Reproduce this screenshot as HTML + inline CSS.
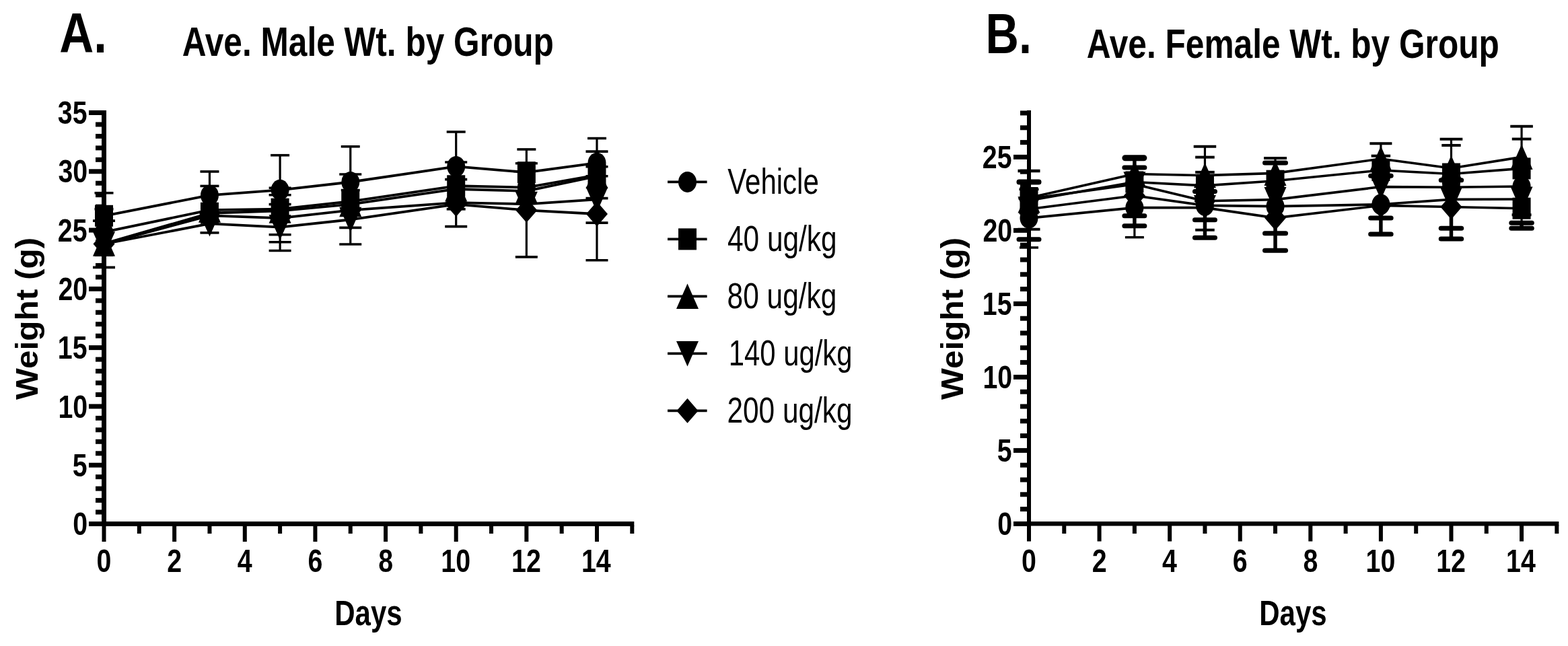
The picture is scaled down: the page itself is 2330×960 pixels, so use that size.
<!DOCTYPE html>
<html><head><meta charset="utf-8"><title>Ave. Wt. by Group</title>
<style>html,body{margin:0;padding:0;background:#fff;}svg{display:block;}
text{font-family:'Liberation Sans', Arial, sans-serif;fill:#000;}</style></head>
<body><svg width="2330" height="960" viewBox="0 0 2330 960">
<rect width="2330" height="960" fill="#fff"/>
<g fill="#000">
<rect x="151.00" y="164.00" width="7.00" height="618.00"/>
<rect x="151.00" y="775.00" width="791.30" height="7.00"/>
<rect x="132.00" y="775.00" width="20.00" height="7.00"/>
<rect x="142.00" y="757.54" width="10.00" height="7.00"/>
<rect x="142.00" y="740.09" width="10.00" height="7.00"/>
<rect x="142.00" y="722.63" width="10.00" height="7.00"/>
<rect x="142.00" y="705.17" width="10.00" height="7.00"/>
<rect x="132.00" y="687.72" width="20.00" height="7.00"/>
<rect x="142.00" y="670.26" width="10.00" height="7.00"/>
<rect x="142.00" y="652.80" width="10.00" height="7.00"/>
<rect x="142.00" y="635.34" width="10.00" height="7.00"/>
<rect x="142.00" y="617.89" width="10.00" height="7.00"/>
<rect x="132.00" y="600.43" width="20.00" height="7.00"/>
<rect x="142.00" y="582.97" width="10.00" height="7.00"/>
<rect x="142.00" y="565.52" width="10.00" height="7.00"/>
<rect x="142.00" y="548.06" width="10.00" height="7.00"/>
<rect x="142.00" y="530.60" width="10.00" height="7.00"/>
<rect x="132.00" y="513.14" width="20.00" height="7.00"/>
<rect x="142.00" y="495.69" width="10.00" height="7.00"/>
<rect x="142.00" y="478.23" width="10.00" height="7.00"/>
<rect x="142.00" y="460.77" width="10.00" height="7.00"/>
<rect x="142.00" y="443.32" width="10.00" height="7.00"/>
<rect x="132.00" y="425.86" width="20.00" height="7.00"/>
<rect x="142.00" y="408.40" width="10.00" height="7.00"/>
<rect x="142.00" y="390.95" width="10.00" height="7.00"/>
<rect x="142.00" y="373.49" width="10.00" height="7.00"/>
<rect x="142.00" y="356.03" width="10.00" height="7.00"/>
<rect x="132.00" y="338.57" width="20.00" height="7.00"/>
<rect x="142.00" y="321.12" width="10.00" height="7.00"/>
<rect x="142.00" y="303.66" width="10.00" height="7.00"/>
<rect x="142.00" y="286.20" width="10.00" height="7.00"/>
<rect x="142.00" y="268.75" width="10.00" height="7.00"/>
<rect x="132.00" y="251.29" width="20.00" height="7.00"/>
<rect x="142.00" y="233.83" width="10.00" height="7.00"/>
<rect x="142.00" y="216.38" width="10.00" height="7.00"/>
<rect x="142.00" y="198.92" width="10.00" height="7.00"/>
<rect x="142.00" y="181.46" width="10.00" height="7.00"/>
<rect x="132.00" y="164.00" width="20.00" height="7.00"/>
<rect x="151.50" y="781.00" width="6.00" height="24.00"/>
<rect x="203.82" y="781.00" width="6.00" height="12.00"/>
<rect x="256.14" y="781.00" width="6.00" height="24.00"/>
<rect x="308.46" y="781.00" width="6.00" height="12.00"/>
<rect x="360.78" y="781.00" width="6.00" height="24.00"/>
<rect x="413.10" y="781.00" width="6.00" height="12.00"/>
<rect x="465.42" y="781.00" width="6.00" height="24.00"/>
<rect x="517.74" y="781.00" width="6.00" height="12.00"/>
<rect x="570.06" y="781.00" width="6.00" height="24.00"/>
<rect x="622.38" y="781.00" width="6.00" height="12.00"/>
<rect x="674.70" y="781.00" width="6.00" height="24.00"/>
<rect x="727.02" y="781.00" width="6.00" height="12.00"/>
<rect x="779.34" y="781.00" width="6.00" height="24.00"/>
<rect x="831.66" y="781.00" width="6.00" height="12.00"/>
<rect x="883.98" y="781.00" width="6.00" height="24.00"/>
<rect x="936.30" y="781.00" width="6.00" height="12.00"/>
<line x1="154.50" y1="286.74" x2="154.50" y2="397.41" stroke="#000" stroke-width="3.2" stroke-linecap="butt"/>
<line x1="140.50" y1="286.74" x2="168.50" y2="286.74" stroke="#000" stroke-width="3.6" stroke-linecap="butt"/>
<line x1="140.50" y1="310.65" x2="168.50" y2="310.65" stroke="#000" stroke-width="3.6" stroke-linecap="butt"/>
<line x1="138.00" y1="328.11" x2="171.00" y2="328.11" stroke="#000" stroke-width="3.6" stroke-linecap="butt"/>
<line x1="140.50" y1="379.26" x2="168.50" y2="379.26" stroke="#000" stroke-width="3.6" stroke-linecap="butt"/>
<line x1="138.00" y1="397.41" x2="171.00" y2="397.41" stroke="#000" stroke-width="3.6" stroke-linecap="butt"/>
<line x1="311.46" y1="254.96" x2="311.46" y2="345.92" stroke="#000" stroke-width="3.2" stroke-linecap="butt"/>
<line x1="297.46" y1="254.96" x2="325.46" y2="254.96" stroke="#000" stroke-width="3.6" stroke-linecap="butt"/>
<line x1="297.46" y1="276.44" x2="325.46" y2="276.44" stroke="#000" stroke-width="3.6" stroke-linecap="butt"/>
<line x1="297.46" y1="345.92" x2="325.46" y2="345.92" stroke="#000" stroke-width="3.6" stroke-linecap="butt"/>
<line x1="416.10" y1="230.70" x2="416.10" y2="372.45" stroke="#000" stroke-width="3.2" stroke-linecap="butt"/>
<line x1="402.10" y1="230.70" x2="430.10" y2="230.70" stroke="#000" stroke-width="3.6" stroke-linecap="butt"/>
<line x1="399.60" y1="279.23" x2="432.60" y2="279.23" stroke="#000" stroke-width="3.6" stroke-linecap="butt"/>
<line x1="399.60" y1="289.70" x2="432.60" y2="289.70" stroke="#000" stroke-width="3.6" stroke-linecap="butt"/>
<line x1="399.60" y1="303.67" x2="432.60" y2="303.67" stroke="#000" stroke-width="3.6" stroke-linecap="butt"/>
<line x1="399.60" y1="348.71" x2="432.60" y2="348.71" stroke="#000" stroke-width="3.6" stroke-linecap="butt"/>
<line x1="399.60" y1="359.71" x2="432.60" y2="359.71" stroke="#000" stroke-width="3.6" stroke-linecap="butt"/>
<line x1="399.60" y1="372.45" x2="432.60" y2="372.45" stroke="#000" stroke-width="3.6" stroke-linecap="butt"/>
<line x1="520.74" y1="217.78" x2="520.74" y2="363.02" stroke="#000" stroke-width="3.2" stroke-linecap="butt"/>
<line x1="506.74" y1="217.78" x2="534.74" y2="217.78" stroke="#000" stroke-width="3.6" stroke-linecap="butt"/>
<line x1="504.24" y1="258.98" x2="537.24" y2="258.98" stroke="#000" stroke-width="3.6" stroke-linecap="butt"/>
<line x1="506.74" y1="282.55" x2="534.74" y2="282.55" stroke="#000" stroke-width="3.6" stroke-linecap="butt"/>
<line x1="504.24" y1="338.41" x2="537.24" y2="338.41" stroke="#000" stroke-width="3.6" stroke-linecap="butt"/>
<line x1="504.24" y1="363.02" x2="537.24" y2="363.02" stroke="#000" stroke-width="3.6" stroke-linecap="butt"/>
<line x1="677.70" y1="195.96" x2="677.70" y2="336.66" stroke="#000" stroke-width="3.2" stroke-linecap="butt"/>
<line x1="663.70" y1="195.96" x2="691.70" y2="195.96" stroke="#000" stroke-width="3.6" stroke-linecap="butt"/>
<line x1="661.20" y1="241.00" x2="694.20" y2="241.00" stroke="#000" stroke-width="3.6" stroke-linecap="butt"/>
<line x1="661.20" y1="266.66" x2="694.20" y2="266.66" stroke="#000" stroke-width="3.6" stroke-linecap="butt"/>
<line x1="663.70" y1="310.83" x2="691.70" y2="310.83" stroke="#000" stroke-width="3.6" stroke-linecap="butt"/>
<line x1="661.20" y1="336.66" x2="694.20" y2="336.66" stroke="#000" stroke-width="3.6" stroke-linecap="butt"/>
<line x1="782.34" y1="221.97" x2="782.34" y2="381.88" stroke="#000" stroke-width="3.2" stroke-linecap="butt"/>
<line x1="768.34" y1="221.97" x2="796.34" y2="221.97" stroke="#000" stroke-width="3.6" stroke-linecap="butt"/>
<line x1="765.84" y1="242.74" x2="798.84" y2="242.74" stroke="#000" stroke-width="3.6" stroke-linecap="butt"/>
<line x1="765.84" y1="381.88" x2="798.84" y2="381.88" stroke="#000" stroke-width="3.6" stroke-linecap="butt"/>
<line x1="886.98" y1="205.56" x2="886.98" y2="386.76" stroke="#000" stroke-width="3.2" stroke-linecap="butt"/>
<line x1="872.98" y1="205.56" x2="900.98" y2="205.56" stroke="#000" stroke-width="3.6" stroke-linecap="butt"/>
<line x1="870.48" y1="225.11" x2="903.48" y2="225.11" stroke="#000" stroke-width="3.6" stroke-linecap="butt"/>
<line x1="870.48" y1="247.81" x2="903.48" y2="247.81" stroke="#000" stroke-width="3.6" stroke-linecap="butt"/>
<line x1="870.48" y1="261.77" x2="903.48" y2="261.77" stroke="#000" stroke-width="3.6" stroke-linecap="butt"/>
<line x1="870.48" y1="294.59" x2="903.48" y2="294.59" stroke="#000" stroke-width="3.6" stroke-linecap="butt"/>
<line x1="870.48" y1="331.08" x2="903.48" y2="331.08" stroke="#000" stroke-width="3.6" stroke-linecap="butt"/>
<line x1="870.48" y1="386.76" x2="903.48" y2="386.76" stroke="#000" stroke-width="3.6" stroke-linecap="butt"/>
<polyline points="154.50,320.78 311.46,290.23 416.10,282.37 520.74,270.50 677.70,247.46 782.34,256.19 886.98,242.22" fill="none" stroke="#000" stroke-width="3.8" stroke-linejoin="round"/>
<polyline points="154.50,344.87 311.46,312.22 416.10,310.65 520.74,299.31 677.70,276.26 782.34,278.53 886.98,260.03" fill="none" stroke="#000" stroke-width="3.8" stroke-linejoin="round"/>
<polyline points="154.50,362.15 311.46,316.76 416.10,313.27 520.74,303.67 677.70,280.98 782.34,283.94 886.98,261.77" fill="none" stroke="#000" stroke-width="3.8" stroke-linejoin="round"/>
<polyline points="154.50,362.67 311.46,320.43 416.10,324.09 520.74,312.40 677.70,301.05 782.34,303.32 886.98,296.34" fill="none" stroke="#000" stroke-width="3.8" stroke-linejoin="round"/>
<polyline points="154.50,362.50 311.46,332.47 416.10,337.71 520.74,326.36 677.70,303.67 782.34,312.40 886.98,317.98" fill="none" stroke="#000" stroke-width="3.8" stroke-linejoin="round"/>
<rect x="141.00" y="304.78" width="27.00" height="32.00"/>
<ellipse cx="311.46" cy="290.23" rx="13.5" ry="15.5"/>
<ellipse cx="416.10" cy="282.37" rx="13.5" ry="15.5"/>
<ellipse cx="520.74" cy="270.50" rx="13.5" ry="15.5"/>
<ellipse cx="677.70" cy="247.46" rx="13.5" ry="15.5"/>
<rect x="768.84" y="240.19" width="27.00" height="32.00"/>
<ellipse cx="886.98" cy="242.22" rx="13.5" ry="15.5"/>
<ellipse cx="154.50" cy="344.87" rx="13.5" ry="15.5"/>
<polygon points="311.46,293.22 327.96,330.72 294.96,330.72"/>
<rect x="402.60" y="294.65" width="27.00" height="32.00"/>
<rect x="507.24" y="283.31" width="27.00" height="32.00"/>
<rect x="664.20" y="260.26" width="27.00" height="32.00"/>
<ellipse cx="782.34" cy="278.53" rx="13.5" ry="15.5"/>
<rect x="873.48" y="244.03" width="27.00" height="32.00"/>
<polygon points="154.50,343.15 171.00,380.65 138.00,380.65"/>
<rect x="297.96" y="300.76" width="27.00" height="32.00"/>
<polygon points="416.10,294.27 432.60,331.77 399.60,331.77"/>
<polygon points="520.74,284.67 537.24,322.17 504.24,322.17"/>
<polygon points="677.70,261.98 694.20,299.48 661.20,299.48"/>
<polygon points="782.34,264.94 798.84,302.44 765.84,302.44"/>
<polygon points="886.98,242.77 903.48,280.27 870.48,280.27"/>
<polygon points="138.00,344.17 171.00,344.17 154.50,381.67"/>
<polygon points="311.46,302.03 327.46,320.43 311.46,338.83 295.46,320.43"/>
<polygon points="416.10,305.69 432.10,324.09 416.10,342.49 400.10,324.09"/>
<polygon points="520.74,294.00 536.74,312.40 520.74,330.80 504.74,312.40"/>
<polygon points="677.70,282.65 693.70,301.05 677.70,319.45 661.70,301.05"/>
<polygon points="765.84,284.82 798.84,284.82 782.34,322.32"/>
<polygon points="870.48,277.84 903.48,277.84 886.98,315.34"/>
<polygon points="154.50,344.10 170.50,362.50 154.50,380.90 138.50,362.50"/>
<polygon points="294.96,313.97 327.96,313.97 311.46,351.47"/>
<polygon points="399.60,319.21 432.60,319.21 416.10,356.71"/>
<polygon points="504.24,307.86 537.24,307.86 520.74,345.36"/>
<polygon points="677.70,285.27 693.70,303.67 677.70,322.07 661.70,303.67"/>
<polygon points="782.34,294.00 798.34,312.40 782.34,330.80 766.34,312.40"/>
<polygon points="886.98,299.58 902.98,317.98 886.98,336.38 870.98,317.98"/>
<rect x="1526.00" y="164.00" width="6.00" height="617.50"/>
<rect x="1526.00" y="775.00" width="790.35" height="6.50"/>
<rect x="1506.00" y="774.90" width="21.00" height="7.00"/>
<rect x="1516.00" y="753.10" width="11.00" height="7.00"/>
<rect x="1516.00" y="731.30" width="11.00" height="7.00"/>
<rect x="1516.00" y="709.50" width="11.00" height="7.00"/>
<rect x="1516.00" y="687.70" width="11.00" height="7.00"/>
<rect x="1506.00" y="665.90" width="21.00" height="7.00"/>
<rect x="1516.00" y="644.10" width="11.00" height="7.00"/>
<rect x="1516.00" y="622.30" width="11.00" height="7.00"/>
<rect x="1516.00" y="600.50" width="11.00" height="7.00"/>
<rect x="1516.00" y="578.70" width="11.00" height="7.00"/>
<rect x="1506.00" y="556.90" width="21.00" height="7.00"/>
<rect x="1516.00" y="535.10" width="11.00" height="7.00"/>
<rect x="1516.00" y="513.30" width="11.00" height="7.00"/>
<rect x="1516.00" y="491.50" width="11.00" height="7.00"/>
<rect x="1516.00" y="469.70" width="11.00" height="7.00"/>
<rect x="1506.00" y="447.90" width="21.00" height="7.00"/>
<rect x="1516.00" y="426.10" width="11.00" height="7.00"/>
<rect x="1516.00" y="404.30" width="11.00" height="7.00"/>
<rect x="1516.00" y="382.50" width="11.00" height="7.00"/>
<rect x="1516.00" y="360.70" width="11.00" height="7.00"/>
<rect x="1506.00" y="338.90" width="21.00" height="7.00"/>
<rect x="1516.00" y="317.10" width="11.00" height="7.00"/>
<rect x="1516.00" y="295.30" width="11.00" height="7.00"/>
<rect x="1516.00" y="273.50" width="11.00" height="7.00"/>
<rect x="1516.00" y="251.70" width="11.00" height="7.00"/>
<rect x="1506.00" y="229.90" width="21.00" height="7.00"/>
<rect x="1516.00" y="208.10" width="11.00" height="7.00"/>
<rect x="1516.00" y="186.30" width="11.00" height="7.00"/>
<rect x="1516.00" y="164.50" width="11.00" height="7.00"/>
<rect x="1526.00" y="780.50" width="6.00" height="24.00"/>
<rect x="1578.29" y="780.50" width="6.00" height="12.50"/>
<rect x="1630.58" y="780.50" width="6.00" height="24.00"/>
<rect x="1682.87" y="780.50" width="6.00" height="12.50"/>
<rect x="1735.16" y="780.50" width="6.00" height="24.00"/>
<rect x="1787.45" y="780.50" width="6.00" height="12.50"/>
<rect x="1839.74" y="780.50" width="6.00" height="24.00"/>
<rect x="1892.03" y="780.50" width="6.00" height="12.50"/>
<rect x="1944.32" y="780.50" width="6.00" height="24.00"/>
<rect x="1996.61" y="780.50" width="6.00" height="12.50"/>
<rect x="2048.90" y="780.50" width="6.00" height="24.00"/>
<rect x="2101.19" y="780.50" width="6.00" height="12.50"/>
<rect x="2153.48" y="780.50" width="6.00" height="24.00"/>
<rect x="2205.77" y="780.50" width="6.00" height="12.50"/>
<rect x="2258.06" y="780.50" width="6.00" height="24.00"/>
<rect x="2310.35" y="780.50" width="6.00" height="12.50"/>
<line x1="1529.00" y1="253.89" x2="1529.00" y2="367.91" stroke="#000" stroke-width="3.2" stroke-linecap="butt"/>
<line x1="1529.00" y1="270.46" x2="1529.00" y2="355.70" stroke="#000" stroke-width="5.5" stroke-linecap="butt"/>
<line x1="1512.50" y1="253.89" x2="1545.50" y2="253.89" stroke="#000" stroke-width="4.5" stroke-linecap="butt"/>
<line x1="1514.50" y1="270.46" x2="1543.50" y2="270.46" stroke="#000" stroke-width="8" stroke-linecap="round"/>
<line x1="1514.50" y1="281.36" x2="1543.50" y2="281.36" stroke="#000" stroke-width="3.5" stroke-linecap="butt"/>
<line x1="1514.50" y1="316.68" x2="1543.50" y2="316.68" stroke="#000" stroke-width="3.5" stroke-linecap="butt"/>
<line x1="1512.50" y1="340.66" x2="1545.50" y2="340.66" stroke="#000" stroke-width="4" stroke-linecap="butt"/>
<line x1="1514.00" y1="355.70" x2="1544.00" y2="355.70" stroke="#000" stroke-width="7" stroke-linecap="round"/>
<line x1="1515.00" y1="367.91" x2="1543.00" y2="367.91" stroke="#000" stroke-width="3.5" stroke-linecap="butt"/>
<line x1="1685.87" y1="234.71" x2="1685.87" y2="352.65" stroke="#000" stroke-width="3.2" stroke-linecap="butt"/>
<line x1="1685.87" y1="234.71" x2="1685.87" y2="335.86" stroke="#000" stroke-width="5.5" stroke-linecap="butt"/>
<line x1="1671.87" y1="234.71" x2="1699.87" y2="234.71" stroke="#000" stroke-width="9" stroke-linecap="round"/>
<line x1="1670.87" y1="249.10" x2="1700.87" y2="249.10" stroke="#000" stroke-width="7" stroke-linecap="round"/>
<line x1="1670.87" y1="320.82" x2="1700.87" y2="320.82" stroke="#000" stroke-width="7" stroke-linecap="round"/>
<line x1="1670.87" y1="335.86" x2="1700.87" y2="335.86" stroke="#000" stroke-width="7" stroke-linecap="round"/>
<line x1="1671.87" y1="352.65" x2="1699.87" y2="352.65" stroke="#000" stroke-width="3.5" stroke-linecap="butt"/>
<line x1="1790.45" y1="217.70" x2="1790.45" y2="353.30" stroke="#000" stroke-width="3.2" stroke-linecap="butt"/>
<line x1="1790.45" y1="284.41" x2="1790.45" y2="353.30" stroke="#000" stroke-width="5.5" stroke-linecap="butt"/>
<line x1="1773.70" y1="217.70" x2="1807.20" y2="217.70" stroke="#000" stroke-width="4" stroke-linecap="butt"/>
<line x1="1776.15" y1="233.62" x2="1804.75" y2="233.62" stroke="#000" stroke-width="4" stroke-linecap="butt"/>
<line x1="1776.15" y1="255.85" x2="1804.75" y2="255.85" stroke="#000" stroke-width="4" stroke-linecap="butt"/>
<line x1="1775.45" y1="284.41" x2="1805.45" y2="284.41" stroke="#000" stroke-width="7" stroke-linecap="round"/>
<line x1="1775.45" y1="326.70" x2="1805.45" y2="326.70" stroke="#000" stroke-width="7" stroke-linecap="round"/>
<line x1="1776.15" y1="341.75" x2="1804.75" y2="341.75" stroke="#000" stroke-width="4" stroke-linecap="butt"/>
<line x1="1775.45" y1="353.30" x2="1805.45" y2="353.30" stroke="#000" stroke-width="7" stroke-linecap="round"/>
<line x1="1895.03" y1="234.93" x2="1895.03" y2="372.27" stroke="#000" stroke-width="3.2" stroke-linecap="butt"/>
<line x1="1895.03" y1="242.12" x2="1895.03" y2="372.27" stroke="#000" stroke-width="5.5" stroke-linecap="butt"/>
<line x1="1878.03" y1="234.93" x2="1912.03" y2="234.93" stroke="#000" stroke-width="4" stroke-linecap="butt"/>
<line x1="1879.53" y1="242.12" x2="1910.53" y2="242.12" stroke="#000" stroke-width="7" stroke-linecap="round"/>
<line x1="1879.53" y1="346.76" x2="1910.53" y2="346.76" stroke="#000" stroke-width="7" stroke-linecap="round"/>
<line x1="1879.53" y1="372.27" x2="1910.53" y2="372.27" stroke="#000" stroke-width="7" stroke-linecap="round"/>
<line x1="2051.90" y1="213.34" x2="2051.90" y2="348.07" stroke="#000" stroke-width="3.2" stroke-linecap="butt"/>
<line x1="2051.90" y1="261.30" x2="2051.90" y2="348.07" stroke="#000" stroke-width="5.5" stroke-linecap="butt"/>
<line x1="2035.40" y1="213.34" x2="2068.40" y2="213.34" stroke="#000" stroke-width="4" stroke-linecap="butt"/>
<line x1="2037.65" y1="231.66" x2="2066.15" y2="231.66" stroke="#000" stroke-width="4" stroke-linecap="butt"/>
<line x1="2036.65" y1="261.30" x2="2067.15" y2="261.30" stroke="#000" stroke-width="7" stroke-linecap="round"/>
<line x1="2036.65" y1="324.09" x2="2067.15" y2="324.09" stroke="#000" stroke-width="7" stroke-linecap="round"/>
<line x1="2036.65" y1="348.07" x2="2067.15" y2="348.07" stroke="#000" stroke-width="7" stroke-linecap="round"/>
<line x1="2156.48" y1="206.80" x2="2156.48" y2="355.04" stroke="#000" stroke-width="3.2" stroke-linecap="butt"/>
<line x1="2156.48" y1="267.84" x2="2156.48" y2="355.04" stroke="#000" stroke-width="5.5" stroke-linecap="butt"/>
<line x1="2139.63" y1="206.80" x2="2173.33" y2="206.80" stroke="#000" stroke-width="4" stroke-linecap="butt"/>
<line x1="2142.28" y1="215.96" x2="2170.68" y2="215.96" stroke="#000" stroke-width="4" stroke-linecap="butt"/>
<line x1="2141.23" y1="267.84" x2="2171.73" y2="267.84" stroke="#000" stroke-width="7" stroke-linecap="round"/>
<line x1="2141.23" y1="339.35" x2="2171.73" y2="339.35" stroke="#000" stroke-width="7" stroke-linecap="round"/>
<line x1="2141.23" y1="355.04" x2="2171.73" y2="355.04" stroke="#000" stroke-width="7" stroke-linecap="round"/>
<line x1="2261.06" y1="187.84" x2="2261.06" y2="339.13" stroke="#000" stroke-width="3.2" stroke-linecap="butt"/>
<line x1="2261.06" y1="331.28" x2="2261.06" y2="339.13" stroke="#000" stroke-width="5.5" stroke-linecap="butt"/>
<line x1="2244.26" y1="187.84" x2="2277.86" y2="187.84" stroke="#000" stroke-width="4" stroke-linecap="butt"/>
<line x1="2246.76" y1="206.59" x2="2275.36" y2="206.59" stroke="#000" stroke-width="4" stroke-linecap="butt"/>
<line x1="2246.56" y1="319.29" x2="2275.56" y2="319.29" stroke="#000" stroke-width="4" stroke-linecap="butt"/>
<line x1="2245.81" y1="331.28" x2="2276.31" y2="331.28" stroke="#000" stroke-width="7" stroke-linecap="round"/>
<line x1="2245.81" y1="339.13" x2="2276.31" y2="339.13" stroke="#000" stroke-width="7" stroke-linecap="round"/>
<polyline points="1529.00,294.00 1685.87,258.47 1790.45,260.65 1895.03,257.38 2051.90,236.02 2156.48,249.97 2261.06,233.40" fill="none" stroke="#000" stroke-width="3.6" stroke-linejoin="round"/>
<polyline points="1529.00,297.93 1685.87,270.46 1790.45,275.91 1895.03,268.72 2051.90,253.02 2156.48,258.47 2261.06,250.40" fill="none" stroke="#000" stroke-width="3.6" stroke-linejoin="round"/>
<polyline points="1529.00,295.53 1685.87,273.73 1790.45,298.80 1895.03,296.62 2051.90,277.65 2156.48,278.31 2261.06,277.00" fill="none" stroke="#000" stroke-width="3.6" stroke-linejoin="round"/>
<polyline points="1529.00,310.79 1685.87,290.73 1790.45,305.34 1895.03,306.65 2051.90,303.81 2156.48,296.40 2261.06,295.97" fill="none" stroke="#000" stroke-width="3.6" stroke-linejoin="round"/>
<polyline points="1529.00,324.09 1685.87,308.61 1790.45,308.61 1895.03,323.87 2051.90,305.34 2156.48,307.52 2261.06,309.70" fill="none" stroke="#000" stroke-width="3.6" stroke-linejoin="round"/>
<rect x="1515.50" y="278.00" width="27.00" height="32.00"/>
<polygon points="1685.87,239.47 1702.37,276.97 1669.37,276.97"/>
<polygon points="1790.45,241.65 1806.95,279.15 1773.95,279.15"/>
<polygon points="1895.03,238.38 1911.53,275.88 1878.53,275.88"/>
<polygon points="2051.90,217.02 2068.40,254.52 2035.40,254.52"/>
<polygon points="2156.48,230.97 2172.98,268.47 2139.98,268.47"/>
<polygon points="2261.06,214.40 2277.56,251.90 2244.56,251.90"/>
<polygon points="1529.00,278.93 1545.50,316.43 1512.50,316.43"/>
<rect x="1672.37" y="254.46" width="27.00" height="32.00"/>
<rect x="1776.95" y="259.91" width="27.00" height="32.00"/>
<rect x="1881.53" y="252.72" width="27.00" height="32.00"/>
<rect x="2038.40" y="237.02" width="27.00" height="32.00"/>
<rect x="2142.98" y="242.47" width="27.00" height="32.00"/>
<rect x="2247.56" y="234.40" width="27.00" height="32.00"/>
<polygon points="1529.00,277.13 1545.00,295.53 1529.00,313.93 1513.00,295.53"/>
<polygon points="1669.37,255.23 1702.37,255.23 1685.87,292.73"/>
<polygon points="1790.45,280.40 1806.45,298.80 1790.45,317.20 1774.45,298.80"/>
<polygon points="1878.53,278.12 1911.53,278.12 1895.03,315.62"/>
<polygon points="2035.40,259.15 2068.40,259.15 2051.90,296.65"/>
<ellipse cx="2156.48" cy="278.31" rx="13.5" ry="15.5"/>
<ellipse cx="2261.06" cy="277.00" rx="13.5" ry="15.5"/>
<polygon points="1512.50,292.29 1545.50,292.29 1529.00,329.79"/>
<polygon points="1685.87,272.33 1701.87,290.73 1685.87,309.13 1669.87,290.73"/>
<ellipse cx="1790.45" cy="305.34" rx="13.5" ry="15.5"/>
<ellipse cx="1895.03" cy="306.65" rx="13.5" ry="15.5"/>
<ellipse cx="2051.90" cy="303.81" rx="13.5" ry="15.5"/>
<polygon points="2139.98,277.90 2172.98,277.90 2156.48,315.40"/>
<polygon points="2244.56,277.47 2277.56,277.47 2261.06,314.97"/>
<ellipse cx="1529.00" cy="324.09" rx="13.5" ry="15.5"/>
<ellipse cx="1685.87" cy="308.61" rx="13.5" ry="15.5"/>
<polygon points="1773.95,290.11 1806.95,290.11 1790.45,327.61"/>
<polygon points="1895.03,305.47 1911.03,323.87 1895.03,342.27 1879.03,323.87"/>
<polygon points="2051.90,286.94 2067.90,305.34 2051.90,323.74 2035.90,305.34"/>
<polygon points="2156.48,289.12 2172.48,307.52 2156.48,325.92 2140.48,307.52"/>
<rect x="2247.56" y="293.70" width="27.00" height="32.00"/>
<text transform="translate(88.23,78.00) scale(0.8520,1)" font-size="83" font-weight="bold">A.</text>
<text transform="translate(270.76,82.80) scale(0.8094,1)" font-size="61.3" font-weight="bold">Ave. Male Wt. by Group</text>
<text transform="translate(1464.55,78.90) scale(0.8246,1)" font-size="83" font-weight="bold">B.</text>
<text transform="translate(1614.76,86.00) scale(0.8097,1)" font-size="61.3" font-weight="bold">Ave. Female Wt. by Group</text>
<text transform="translate(108.23,795.10) scale(0.8200,1)" font-size="48" font-weight="bold">0</text>
<text transform="translate(107.64,707.82) scale(0.8200,1)" font-size="48" font-weight="bold">5</text>
<text transform="translate(86.38,620.53) scale(0.8200,1)" font-size="48" font-weight="bold">10</text>
<text transform="translate(85.79,533.25) scale(0.8200,1)" font-size="48" font-weight="bold">15</text>
<text transform="translate(86.38,445.96) scale(0.8200,1)" font-size="48" font-weight="bold">20</text>
<text transform="translate(85.79,358.68) scale(0.8200,1)" font-size="48" font-weight="bold">25</text>
<text transform="translate(86.38,271.39) scale(0.8200,1)" font-size="48" font-weight="bold">30</text>
<text transform="translate(85.79,184.10) scale(0.8200,1)" font-size="48" font-weight="bold">35</text>
<text transform="translate(1482.23,795.00) scale(0.8200,1)" font-size="48" font-weight="bold">0</text>
<text transform="translate(1481.64,686.00) scale(0.8200,1)" font-size="48" font-weight="bold">5</text>
<text transform="translate(1460.38,577.00) scale(0.8200,1)" font-size="48" font-weight="bold">10</text>
<text transform="translate(1459.79,468.00) scale(0.8200,1)" font-size="48" font-weight="bold">15</text>
<text transform="translate(1460.38,359.00) scale(0.8200,1)" font-size="48" font-weight="bold">20</text>
<text transform="translate(1459.79,250.00) scale(0.8200,1)" font-size="48" font-weight="bold">25</text>
<text transform="translate(143.58,850.00) scale(0.8200,1)" font-size="48" font-weight="bold">0</text>
<text transform="translate(1518.08,849.50) scale(0.8200,1)" font-size="48" font-weight="bold">0</text>
<text transform="translate(248.32,850.00) scale(0.8200,1)" font-size="48" font-weight="bold">2</text>
<text transform="translate(1622.76,849.50) scale(0.8200,1)" font-size="48" font-weight="bold">2</text>
<text transform="translate(352.66,850.00) scale(0.8200,1)" font-size="48" font-weight="bold">4</text>
<text transform="translate(1727.04,849.50) scale(0.8200,1)" font-size="48" font-weight="bold">4</text>
<text transform="translate(457.50,850.00) scale(0.8200,1)" font-size="48" font-weight="bold">6</text>
<text transform="translate(1831.82,849.50) scale(0.8200,1)" font-size="48" font-weight="bold">6</text>
<text transform="translate(562.14,850.00) scale(0.8200,1)" font-size="48" font-weight="bold">8</text>
<text transform="translate(1936.40,849.50) scale(0.8200,1)" font-size="48" font-weight="bold">8</text>
<text transform="translate(655.36,850.00) scale(0.8200,1)" font-size="48" font-weight="bold">10</text>
<text transform="translate(2029.56,849.50) scale(0.8200,1)" font-size="48" font-weight="bold">10</text>
<text transform="translate(760.00,850.00) scale(0.8200,1)" font-size="48" font-weight="bold">12</text>
<text transform="translate(2134.14,849.50) scale(0.8200,1)" font-size="48" font-weight="bold">12</text>
<text transform="translate(863.95,850.00) scale(0.8200,1)" font-size="48" font-weight="bold">14</text>
<text transform="translate(2238.03,849.50) scale(0.8200,1)" font-size="48" font-weight="bold">14</text>
<text transform="translate(497.27,928.75) scale(0.8018,1)" font-size="52.4" font-weight="bold">Days</text>
<text transform="translate(1871.27,928.75) scale(0.8018,1)" font-size="52.4" font-weight="bold">Days</text>
<text transform="translate(56.00,594.00) rotate(-90) scale(0.9463,0.8730)" font-size="52.4" font-weight="bold">Weight (g)</text>
<text transform="translate(1431.00,594.00) rotate(-90) scale(0.9463,0.8730)" font-size="52.4" font-weight="bold">Weight (g)</text>
<line x1="992.00" y1="270.40" x2="1050.60" y2="270.40" stroke="#000" stroke-width="3.6" stroke-linecap="butt"/>
<ellipse cx="1021.50" cy="270.40" rx="13.5" ry="15.5"/>
<text transform="translate(1081.29,287.90) scale(0.7933,1)" font-size="53" font-weight="normal">Vehicle</text>
<line x1="992.00" y1="355.40" x2="1050.60" y2="355.40" stroke="#000" stroke-width="3.6" stroke-linecap="butt"/>
<rect x="1008.00" y="339.40" width="27.00" height="32.00"/>
<text transform="translate(1080.94,372.90) scale(0.8001,1)" font-size="53" font-weight="normal">40 ug/kg</text>
<line x1="992.00" y1="440.40" x2="1050.60" y2="440.40" stroke="#000" stroke-width="3.6" stroke-linecap="butt"/>
<polygon points="1021.50,421.40 1038.00,458.90 1005.00,458.90"/>
<text transform="translate(1080.59,457.90) scale(0.8003,1)" font-size="53" font-weight="normal">80 ug/kg</text>
<line x1="992.00" y1="525.40" x2="1050.60" y2="525.40" stroke="#000" stroke-width="3.6" stroke-linecap="butt"/>
<polygon points="1005.00,506.90 1038.00,506.90 1021.50,544.40"/>
<text transform="translate(1082.86,542.90) scale(0.7891,1)" font-size="53" font-weight="normal">140 ug/kg</text>
<line x1="992.00" y1="610.40" x2="1050.60" y2="610.40" stroke="#000" stroke-width="3.6" stroke-linecap="butt"/>
<polygon points="1021.50,592.00 1037.50,610.40 1021.50,628.80 1005.50,610.40"/>
<text transform="translate(1080.38,627.90) scale(0.8000,1)" font-size="53" font-weight="normal">200 ug/kg</text>
</g>
</svg></body></html>
